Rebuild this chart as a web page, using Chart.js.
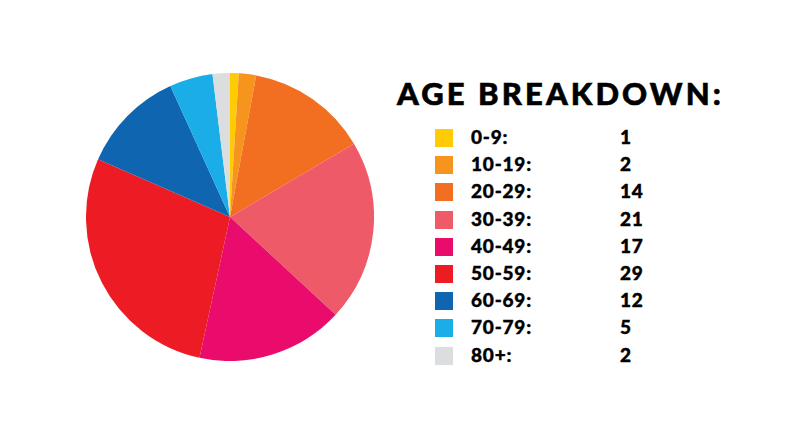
<!DOCTYPE html>
<html>
<head>
<meta charset="utf-8">
<script src="https://cdn.jsdelivr.net/npm/chart.js@4"></script>
<style>
  html, body { margin: 0; padding: 0; background: #ffffff; }
  body { width: 800px; height: 443px; position: relative; overflow: hidden; font-family: "Lato", "DejaVu Sans", sans-serif; }
  #pieBox { position: absolute; left: 86px; top: 73px; width: 288px; height: 288px; }
  #title { position: absolute; left: 397px; top: 74px; font-size: 31px; font-weight: 900; color: #000; letter-spacing: 3.1px; white-space: nowrap; -webkit-text-stroke: 0.6px #000; }
  .row { position: absolute; left: 435px; height: 18px; font-size: 19px; font-weight: 900; color: #000; white-space: nowrap; letter-spacing: 0.8px; -webkit-text-stroke: 0.4px #000; }
  .sw { position: absolute; left: 0; top: 0; width: 18px; height: 18px; }
  .lab { position: absolute; left: 36px; top: -3px; line-height: 22px; }
  .val { position: absolute; left: 185px; top: -3px; line-height: 22px; }
</style>
</head>
<body>
<div id="pieBox"><canvas id="c"></canvas></div>
<div id="title">AGE BREAKDOWN:</div>
<div id="legend"></div>
<script>
const categories = ["0-9:", "10-19:", "20-29:", "30-39:", "40-49:", "50-59:", "60-69:", "70-79:", "80+:"];
const values = [1, 2, 14, 21, 17, 29, 12, 5, 2];
const colors = ["#FFCB05", "#F7941D", "#F26F22", "#EF5A68", "#E90C6D", "#ED1C24", "#0F65B0", "#1AADE8", "#DCDDDE"];

const legend = document.getElementById('legend');
categories.forEach((c, i) => {
  const row = document.createElement('div');
  row.className = 'row';
  row.style.top = (129 + i * 27.2) + 'px';
  row.innerHTML = '<div class="sw" style="background:' + colors[i] + '"></div>' +
    '<div class="lab">' + c + '</div><div class="val">' + values[i] + '</div>';
  legend.appendChild(row);
});

new Chart(document.getElementById('c'), {
  type: 'pie',
  data: {
    labels: categories,
    datasets: [{ data: values, backgroundColor: colors, borderWidth: 0 }]
  },
  options: {
    responsive: true,
    maintainAspectRatio: false,
    animation: false,
    plugins: { legend: { display: false }, tooltip: { enabled: false } },
    layout: { padding: 0 }
  }
});
</script>
</body>
</html>
